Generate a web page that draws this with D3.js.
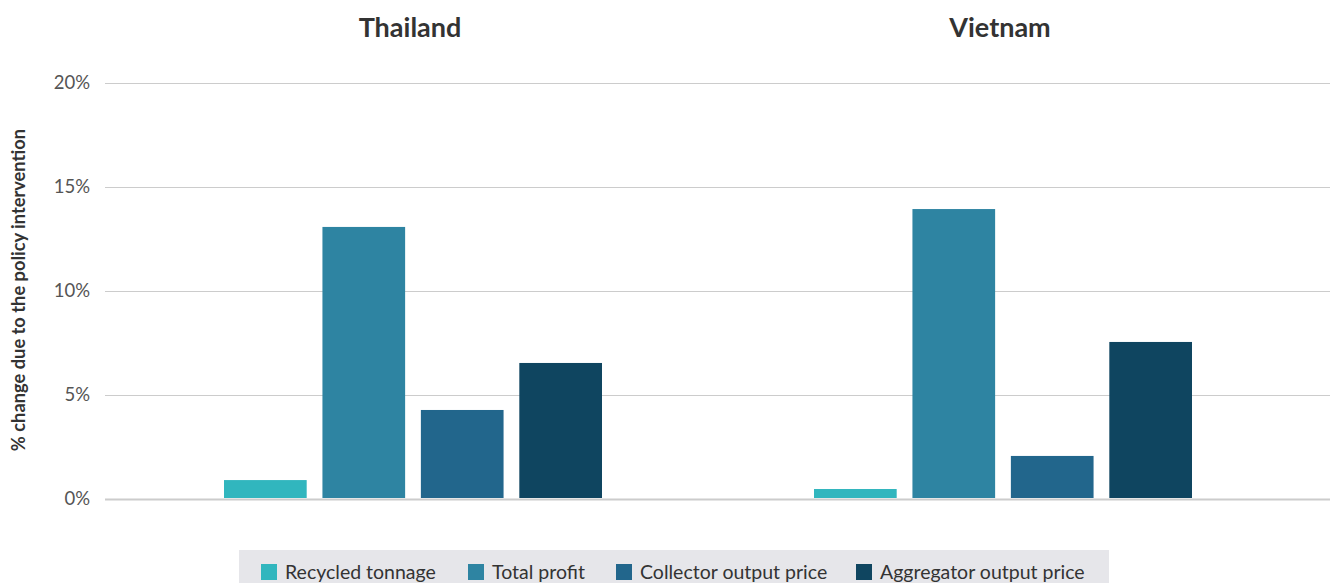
<!DOCTYPE html>
<html>
<head>
<meta charset="utf-8">
<script src="https://cdn.jsdelivr.net/npm/d3@7"></script>
<style>
  body { margin: 0; background: #fff; font-family: Lato, "Open Sans", sans-serif; }
</style>
</head>
<body>
<div id="chart"></div>
<script>
// data
var countries = ["Thailand", "Vietnam"];
var seriesNames = ["Recycled tonnage", "Total profit", "Collector output price", "Aggregator output price"];
var thailandValues = [0.91, 13.08, 4.28, 6.54];
var vietnamValues = [0.48, 13.94, 2.07, 7.55];
var colors = ["#31b6be", "#2e84a2", "#22668c", "#0f4560"];
var yTicks = [0, 5, 10, 15, 20];

var width = 1330,
    height = 583;

var svg = d3.select("#chart").append("svg")
    .attr("width", width)
    .attr("height", height);

var plotLeft = 105, plotRight = 1330;

var y = d3.scaleLinear().domain([0, 20]).range([499, 83]);

// panels
var x0 = d3.scaleBand().domain(countries).range([118, 1298]);
var x1 = d3.scaleBand().domain(seriesNames).range([106, 484])
    .paddingInner(0.16).paddingOuter(0);

// grid
var grid = svg.append("g")
    .attr("transform", "translate(" + plotLeft + ",0)")
    .call(d3.axisLeft(y).tickValues(yTicks).tickSize(-(plotRight - plotLeft)).tickFormat(""));
grid.select(".domain").remove();
grid.selectAll(".tick line")
    .attr("stroke", "#cccccc")
    .attr("stroke-width", function(d) { return d === 0 ? 2 : 1; });

// tick labels
svg.append("g").selectAll("text")
    .data(yTicks)
  .enter().append("text")
    .attr("x", 90)
    .attr("y", function(d) { return y(d); })
    .attr("dy", "0.35em")
    .attr("text-anchor", "end")
    .style("font-size", "18.5px")
    .style("fill", "#555")
    .text(function(d) { return d + "%"; });

// y label
svg.append("text")
    .attr("transform", "translate(25," + 290 + ") rotate(-90)")
    .attr("text-anchor", "middle")
    .style("font-size", "18.3px")
    .style("font-weight", "bold")
    .style("fill", "#333")
    .text("% change due to the policy intervention");

// bars
var valuesByCountry = { "Thailand": thailandValues, "Vietnam": vietnamValues };

var groups = svg.selectAll(".country")
    .data(countries)
  .enter().append("g")
    .attr("class", "country")
    .attr("transform", function(d) { return "translate(" + x0(d) + ",0)"; });

groups.selectAll("rect")
    .data(function(c) {
        return valuesByCountry[c].map(function(v, i) { return { name: seriesNames[i], value: v, i: i }; });
    })
  .enter().append("rect")
    .attr("x", function(d) { return x1(d.name); })
    .attr("width", x1.bandwidth())
    .attr("y", function(d) { return y(d.value); })
    .attr("height", function(d) { return y(0) - y(d.value) - 1; })
    .attr("fill", function(d) { return colors[d.i]; });

groups.append("text")
    .attr("x", x0.bandwidth() / 2 - 3)
    .attr("y", 37)
    .attr("text-anchor", "middle")
    .style("font-size", "27px")
    .style("font-weight", "bold")
    .style("fill", "#333")
    .text(function(d) { return d; });

// legend
var legend = svg.append("g");
legend.append("rect")
    .attr("x", 239)
    .attr("y", 550)
    .attr("width", 870)
    .attr("height", 40)
    .attr("fill", "#e6e6ea");

var legendX = [261, 468, 616, 856];
var items = legend.selectAll(".item")
    .data(seriesNames)
  .enter().append("g")
    .attr("class", "item")
    .attr("transform", function(d, i) { return "translate(" + legendX[i] + ",564)"; });

items.append("rect")
    .attr("width", 16)
    .attr("height", 16)
    .attr("fill", function(d, i) { return colors[i]; });

items.append("text")
    .attr("x", 24)
    .attr("y", 8)
    .attr("dy", "0.35em")
    .style("font-size", "19.5px")
    .style("fill", "#333")
    .text(function(d) { return d; });
</script>
</body>
</html>
